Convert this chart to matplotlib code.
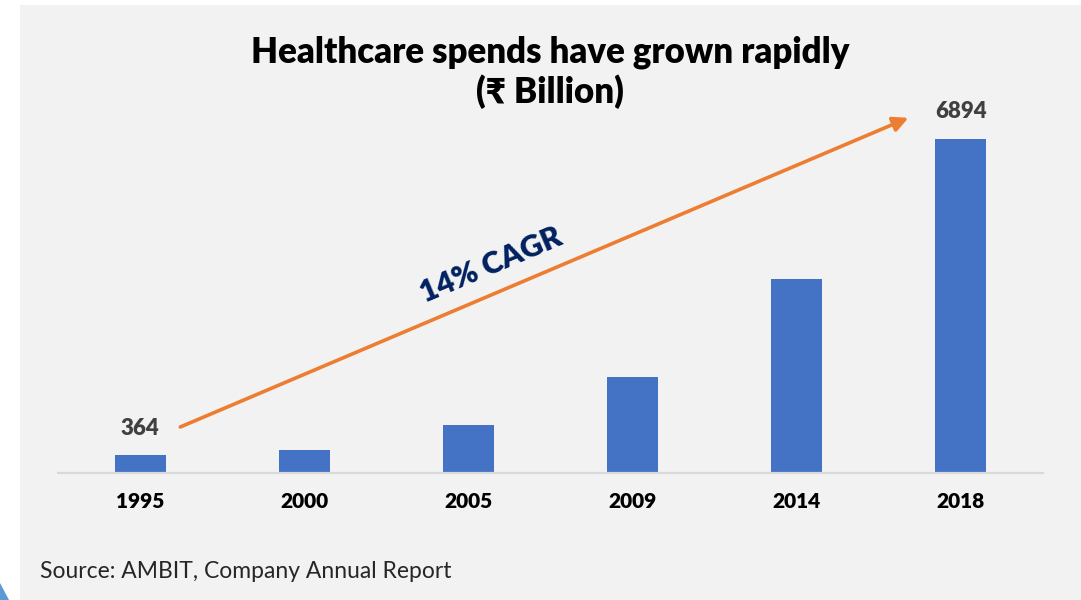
import matplotlib.pyplot as plt
from matplotlib.patches import Rectangle, Polygon

# Healthcare spend, Rs billion
years = ["1995", "2000", "2005", "2009", "2014", "2018"]
spend = [364, 480, 990, 1985, 4000, 6894]
labelled = [0, 5]  # only the first and last bars carry a value label

BAR = "#4472C4"
ARROW = "#ED7D31"
NAVY = "#002060"
PANEL = "#F2F2F2"

plt.rcParams["font.family"] = ["Lato", "DejaVu Sans"]

W, H = 1081, 600
fig = plt.figure(figsize=(W / 100, H / 100), dpi=100)
fig.patch.set_facecolor("white")

# grey slide panel and the small blue corner shape
fig.add_artist(Rectangle((20 / W, 0), 1 - 20 / W, 1 - 5 / H, transform=fig.transFigure,
                         facecolor=PANEL, edgecolor="none", zorder=0))
fig.add_artist(Polygon([(0, 0), (0, 17 / H), (9 / W, 0)], closed=True,
                       transform=fig.transFigure, facecolor="#5B9BD5",
                       edgecolor="none", zorder=1))

ax = fig.add_axes([58 / W, 127 / H, 985 / W, 373.4 / H])
ax.set_facecolor("none")

x = list(range(len(years)))
ax.bar(x, spend, width=0.31, color=BAR, zorder=2)
ax.set_xlim(-0.5, len(years) - 0.5)
ax.set_ylim(0, 7700)

for i in labelled:
    ax.annotate(f"{spend[i]}", (x[i], spend[i]), xytext=(0, 12),
                textcoords="offset points", ha="center", va="bottom",
                fontsize=16, fontweight="heavy", color="#404040")

ax.set_xticks(x)
ax.set_xticklabels(years, fontsize=15, fontweight="heavy", color="black")
ax.tick_params(axis="x", length=0, pad=14)
ax.set_yticks([])
for side in ["left", "right", "top"]:
    ax.spines[side].set_visible(False)
ax.spines["bottom"].set_color("#D9D9D9")
ax.spines["bottom"].set_linewidth(1.6)

# growth arrow from the first to the last value
ax.annotate("", xy=(4.68, spend[-1] + 430), xytext=(0.245, spend[0] + 585),
            arrowprops=dict(arrowstyle="-|>,head_length=0.9,head_width=0.45",
                            color=ARROW, lw=2.6, shrinkA=0, shrinkB=0))
ax.text(2.14, 4290, "14% CAGR", rotation=23, ha="center", va="center",
        fontsize=22, fontweight="heavy", color=NAVY, rotation_mode="anchor")

fig.text(550 / W, 1 - 52 / H, "Healthcare spends have grown rapidly", ha="center",
         va="center", fontsize=25, fontweight="heavy", color="black")
fig.text(550 / W, 1 - 92 / H, "(₹ Billion)", ha="center", va="center",
         fontsize=25, fontweight="heavy", color="black")
fig.text(40 / W, 1 - 571 / H, "Source: AMBIT, Company Annual Report", ha="left",
         va="center", fontsize=16.5, color="#262626")

fig.savefig("out.png", dpi=100)
